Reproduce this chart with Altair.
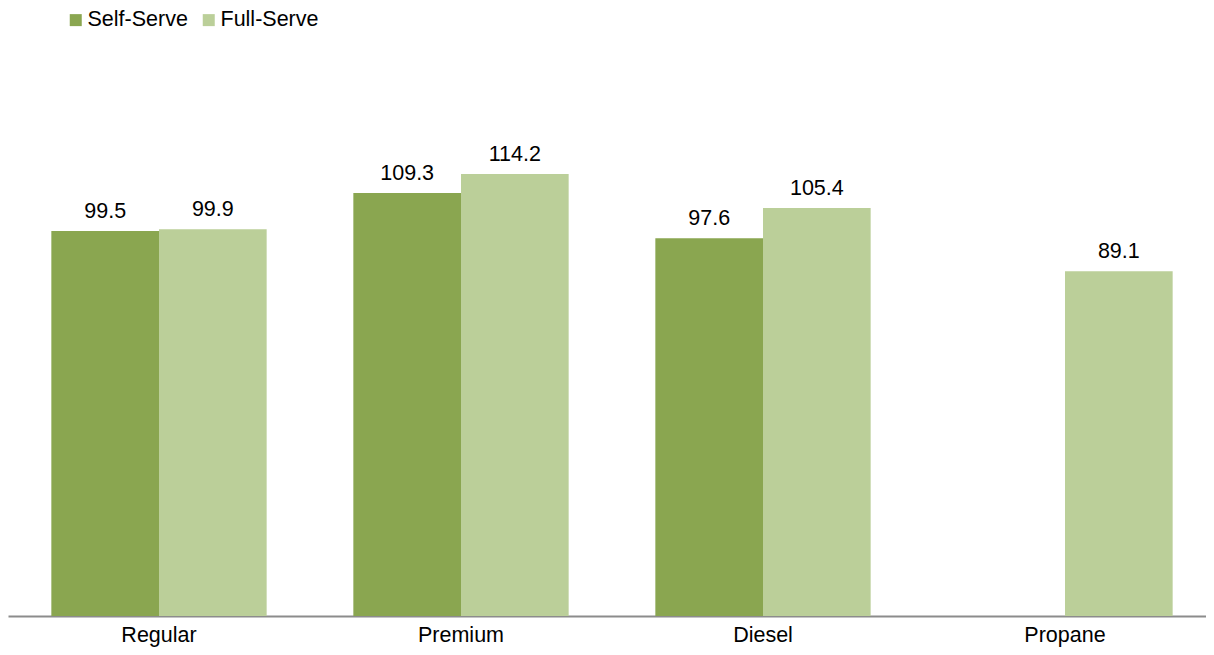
import altair as alt
import pandas as pd

categories = ["Regular", "Premium", "Diesel", "Propane"]
series = ["Self-Serve", "Full-Serve"]
self_serve = [99.5, 109.3, 97.6, None]
full_serve = [99.9, 114.2, 105.4, 89.1]

rows = []
for i, c in enumerate(categories):
    rows.append({"fuel": c, "type": "Self-Serve", "value": self_serve[i]})
    rows.append({"fuel": c, "type": "Full-Serve", "value": full_serve[i]})
df = pd.DataFrame(rows)
df = df.dropna()
df["label"] = df["value"].map(lambda v: f"{v:.1f}")

FONT = "Liberation Sans"
FS = 21.5
colors = ["#8aa650", "#bbcf99"]

x = alt.X("fuel:N", sort=categories, title=None,
          scale=alt.Scale(paddingInner=0.287, paddingOuter=0.1435, range=[0, 1208]),
          axis=alt.Axis(labelAngle=0, labelFontSize=FS, labelColor="#000000",
                        labelFont=FONT, ticks=False, domainColor="#8c8c8c",
                        domainWidth=2, labelPadding=25, labelBaseline="alphabetic",
                        grid=False))
xo = alt.XOffset("type:N", sort=series, scale=alt.Scale(paddingInner=0, paddingOuter=0))
y = alt.Y("value:Q", title=None,
          scale=alt.Scale(domain=[0, 157.1], nice=False, zero=True),
          axis=None)

bars = alt.Chart(df).mark_bar().encode(
    x=x, xOffset=xo, y=y,
    color=alt.Color("type:N", sort=series,
                    scale=alt.Scale(domain=series, range=colors),
                    legend=alt.Legend(orient="none", legendX=57, legendY=1,
                                      direction="horizontal", title=None,
                                      symbolType="square", symbolSize=144,
                                      symbolStrokeWidth=0,
                                      labelFontSize=FS, labelFont=FONT,
                                      labelColor="#000000", columnPadding=10,
                                      symbolOffset=0, labelOffset=1)),
)

texts = alt.Chart(df).mark_text(baseline="alphabetic", dy=-13, fontSize=FS,
                                font=FONT, color="#000000").encode(
    x=x, xOffset=xo, y=y, text="label:N"
)

chart = (bars + texts).properties(
    width=1198, height=608,
    padding={"left": 0, "top": 0, "right": 0, "bottom": 31},
    autosize=alt.AutoSizeParams(type="none"),
    background="#ffffff",
).configure_view(strokeWidth=0, stroke="transparent")

chart.save("out.html", embed_options={"renderer": "svg", "actions": False})
